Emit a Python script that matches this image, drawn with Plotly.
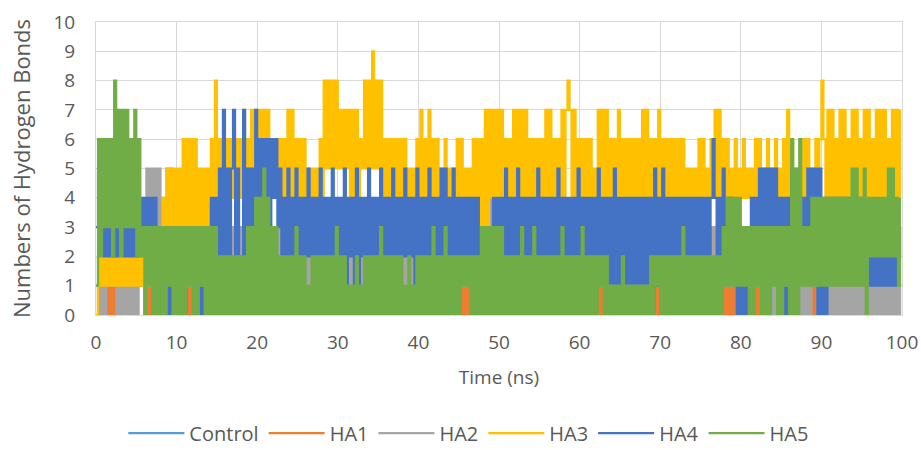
import plotly.graph_objects as go

# Sampling step of the hydrogen-bond time series (ns)
TIME_STEP_NS = 0.25

SERIES_NAMES = ["Control", "HA1", "HA2", "HA3", "HA4", "HA5"]
COLORS = ["#5B9BD5", "#ED7D31", "#A5A5A5", "#FFC000", "#4472C4", "#70AD47"]

# Each string = 10 ns, 4 samples per ns
CONTROL = [
    "1212 1312 1213 1212 1312 1213 1212 1312 1212 1213",
    "1212 1312 1213 1212 1312 1213 1212 1312 1212 1213",
    "1212 1312 1213 1212 1312 1213 1212 1312 1212 1213",
    "1212 1312 1213 1212 1312 1213 1212 1312 1212 1213",
    "1212 1312 1213 1212 1312 1213 1212 1312 1212 1213",
    "1212 1312 1213 1212 1312 1213 1212 1312 1212 1213",
    "1212 1312 1213 1212 1312 1213 1212 1312 1212 1213",
    "1212 1312 1213 1212 1312 1213 1212 1312 1212 1213",
    "1212 1312 1213 1212 1312 1213 1212 1312 1212 1213",
    "1212 1312 1213 1212 1312 1213 1212 1312 1212 1213",
]
HA1 = [
    "0101 0101 0101 0101 0101 0111 0101 0101 0101 0101",
    "0101 0101 0101 0101 0101 0101 0101 0101 0101 0101",
    "0111 0101 0101 0101 0101 0101 0101 0101 0101 0101",
    "0101 0101 0101 0101 0101 0101 0101 0101 0101 0101",
    "0101 0101 0101 0101 0101 0101 0101 0101 0101 0101",
    "0101 0101 0101 0101 0101 0101 0101 0101 0101 0101",
    "0101 0101 0101 0101 0101 0101 0101 0101 0101 0101",
    "0101 0101 0101 0101 0101 0101 0101 0102 0101 0101",
    "0101 0101 0101 0101 0101 0101 0101 0102 0101 0101",
    "0101 0101 0101 0101 0101 0101 0101 0101 0101 0101",
]
HA2 = [
    "0101 0112 1201 0101 0101 0121 2525 2525 2425 2524",
    "1313 1313 1313 1313 1313 1313 1313 1313 1313 1323",
    "1313 1313 1313 1313 1313 1313 1212 1313 1313 1313",
    "1313 1212 1313 1313 1313 1313 1313 1313 1212 1212",
    "1313 1414 1313 1414 1313 1313 1313 1414 1414 1314",
    "1313 1414 1313 1414 1313 1414 1313 1414 1313 1414",
    "1313 1414 1313 1414 1414 2424 2424 1414 1414 2424",
    "1313 1414 1313 1313 1313 1313 1313 1313 1313 1313",
    "1212 1212 1212 1201 0101 1212 1212 0101 0101 1201",
    "0101 0101 0101 0101 0101 0101 0101 0101 0101 0101",
]
HA3 = [
    "0212 1212 1212 1212 1212 1212 1313 2323 3435 3535",
    "3536 3636 3635 3535 3638 4646 4646 4646 4746 4747",
    "4747 4746 4646 4647 4746 4646 4545 4546 4858 5858",
    "5757 5747 4746 5858 5958 5846 4646 4646 4645 4546",
    "4746 4746 4645 4645 4546 4645 4536 3636 3737 4747",
    "4746 4647 4747 4746 3646 3647 4746 4647 4787 4736",
    "3636 3635 4747 4746 3637 3636 3636 3637 3736 3637",
    "3636 3636 3636 3535 3536 3635 4647 4746 4645 4645",
    "4645 4546 4645 4645 4645 4647 4645 4546 4645 4646",
    "8647 4746 4747 4647 4746 4747 4647 4747 4647 4747",
]
HA4 = [
    "3535 2524 2424 3424 2424 2434 2434 3423 0323 0303",
    "0313 0323 2323 0323 2424 2527 2525 7252 2725 2527",
    "3636 3636 4635 2425 2425 2424 2524 2425 2424 2524",
    "2425 1424 1514 2425 2424 2524 2425 2424 2524 2415",
    "2424 2524 2425 2524 2524 2424 2424 2423 2323 2424",
    "2425 2424 2524 2424 2425 2424 2424 2524 2424 2425",
    "2424 2424 2524 1414 0514 0414 1414 1414 1414 0514",
    "1514 2424 2424 2424 1424 2424 2464 2425 2424 2101",
    "0102 2424 3535 3535 3524 0404 3534 3434 3535 3505",
    "0404 3434 3434 3434 3424 2323 1212 1212 1212 1323",
]
HA5 = [
    "1626 3636 2837 2737 3637 2623 0313 0303 0303 1303",
    "0303 0313 0303 1303 0303 0202 0202 0202 0203 0304",
    "0405 0403 0302 0202 0203 0202 0102 0202 0202 0203",
    "0202 0101 0201 0202 0202 0302 0202 0202 0102 0102",
    "0202 0203 0202 0302 0202 0212 1202 0203 0303 0303",
    "0302 0202 0203 0202 0302 0202 0202 0203 0202 0202",
    "0302 0202 0212 0201 0101 0201 0101 0101 0102 0212",
    "0202 0202 0203 0202 0202 0202 0202 0203 1414 1414",
    "1313 0303 1303 0303 1303 0313 0605 0613 1314 1414",
    "1414 1414 1414 1415 1514 1504 2424 2424 2525 2414",
]

X_TICKS = [0, 10, 20, 30, 40, 50, 60, 70, 80, 90, 100]
Y_TICKS = [0, 1, 2, 3, 4, 5, 6, 7, 8, 9, 10]


def parse(chunks):
    vals = []
    for c in chunks:
        digits = c.replace(" ", "")
        assert len(digits) == 40, (c, len(digits))
        vals.extend(int(d) for d in digits)
    return vals


ALL = [CONTROL, HA1, HA2, HA3, HA4, HA5]

FONT = "Open Sans"
TXT = "#595959"
GRID = "#D9D9D9"

fig = go.Figure()
for name, color, chunks in zip(SERIES_NAMES, COLORS, ALL):
    y = parse(chunks)
    x = [i * TIME_STEP_NS for i in range(len(y))]
    fig.add_trace(go.Scatter(
        x=x, y=y, mode="lines", name=name,
        line=dict(color=color, width=2.2, shape="hv"),
    ))

fig.update_layout(
    width=921, height=450,
    paper_bgcolor="white", plot_bgcolor="white",
    margin=dict(l=96, r=19, t=22, b=135, autoexpand=False),
    font=dict(family=FONT, color=TXT, size=18),
    showlegend=True,
    legend=dict(
        orientation="h", x=0.462, xanchor="center",
        y=-0.403, yanchor="middle",
        font=dict(family=FONT, size=20, color=TXT),
        itemwidth=56,
    ),
    xaxis=dict(
        range=[0, 100], tickvals=X_TICKS, showgrid=True, gridcolor=GRID,
        gridwidth=1, zeroline=False, showline=True, linecolor=GRID,
        mirror=True, ticks="", tickfont=dict(size=19, color=TXT),
        ticklabelstandoff=10, automargin=False,
        title=dict(text="Time (ns)", font=dict(size=19, color=TXT), standoff=16),
    ),
    yaxis=dict(
        range=[0, 10], tickvals=Y_TICKS, showgrid=True, gridcolor=GRID,
        gridwidth=1, zeroline=False, showline=True, linecolor=GRID,
        mirror=True, ticks="", ticklabelstandoff=16, automargin=False,
        tickfont=dict(size=19, color=TXT),
        title=dict(text="Numbers of Hydrogen Bonds",
                   font=dict(size=22, color=TXT), standoff=16),
    ),
)

fig.write_html(
    "out.html",
    config={"displayModeBar": False},
    post_script="document.body.style.margin='0';",
)
